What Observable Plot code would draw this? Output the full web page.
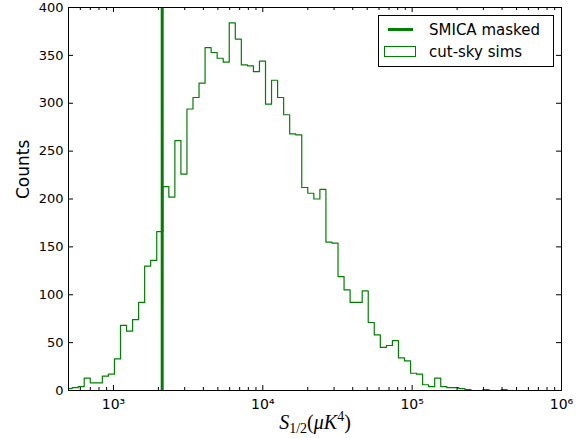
<!DOCTYPE html>
<html><head><meta charset="utf-8">
<script src="https://cdn.jsdelivr.net/npm/d3@7"></script>
<script src="https://cdn.jsdelivr.net/npm/@observablehq/plot@0.6"></script>
<style>body{margin:0;background:#fff}</style>
</head><body><div id="chart"></div>
<script>
// Histogram counts per log-uniform bin
const counts = [2, 3, 4, 13, 8, 8, 15, 17, 33, 68, 62,
  74, 92, 130, 136, 166, 213, 202, 261, 226, 294,
  306, 321, 358, 353, 347, 343, 384, 367, 340, 339,
  333, 344, 299, 324, 306, 288, 268, 267, 212, 206,
  200, 210, 155, 154, 119, 105, 92, 92, 104, 71,
  58, 45, 47, 52, 34, 31, 18, 17, 6, 4,
  13, 4, 3, 3, 2, 1, 0, 0, 1, 0,
  0, 1];
const binStartLog = 2.6829;   // log10 of first bin edge
const binStepLog = 0.04046;   // bin width in decades
const smicaValue = 2120;
const seriesNames = ["SMICA masked", "cut-sky sims"];
const xDomain = [500, 1e6];
const yDomain = [0, 400];
const xMajorTicks = [1e3, 1e4, 1e5, 1e6];
const xMajorLabels = ["10³", "10⁴", "10⁵", "10⁶"];
const xMinorTicks = [500, 600, 700, 800, 900,
  2e3, 3e3, 4e3, 5e3, 6e3, 7e3, 8e3, 9e3,
  2e4, 3e4, 4e4, 5e4, 6e4, 7e4, 8e4, 9e4,
  2e5, 3e5, 4e5, 5e5, 6e5, 7e5, 8e5, 9e5];
const yTicks = [0, 50, 100, 150, 200, 250, 300, 350, 400];
const yLabel = "Counts";

const green = "#008000";
const W = 584, H = 438, mL = 68, mR = 23, mT = 7, mB = 48;
const fw = W - mL - mR, fh = H - mT - mB;

const edges = d3.range(counts.length + 1).map(i => 10 ** (binStartLog + i * binStepLog));
const outline = [{x: edges[0], y: 0}];
counts.forEach((c, i) => outline.push({x: edges[i], y: c}));
outline.push({x: edges[counts.length], y: counts[counts.length - 1]});
outline.push({x: edges[counts.length], y: 0});

const plot = Plot.plot({
  width: W, height: H,
  marginLeft: mL, marginRight: mR, marginTop: mT, marginBottom: mB,
  x: {type: "log", domain: xDomain},
  y: {domain: yDomain},
  style: {fontFamily: "'DejaVu Sans', sans-serif", fontSize: "13px", color: "black", background: "white"},
  marks: [
    Plot.line(outline, {x: "x", y: "y", curve: "step-after", stroke: green, strokeWidth: 1.2, clip: true}),
    Plot.ruleX([smicaValue], {x: d => d, stroke: green, strokeWidth: 3}),
    Plot.frame({stroke: "black", strokeWidth: 1}),
    Plot.tickX(xMajorTicks, {x: d => d, insetTop: fh - 5, stroke: "black"}),
    Plot.tickX(xMajorTicks, {x: d => d, insetBottom: fh - 5, stroke: "black"}),
    Plot.tickX(xMinorTicks, {x: d => d, insetTop: fh - 3, stroke: "black"}),
    Plot.tickX(xMinorTicks, {x: d => d, insetBottom: fh - 3, stroke: "black"}),
    Plot.tickY(yTicks, {y: d => d, insetRight: fw - 5, stroke: "black"}),
    Plot.tickY(yTicks, {y: d => d, insetLeft: fw - 5, stroke: "black"}),
    Plot.axisX(xMajorTicks, {tickSize: 0, tickPadding: 9, label: null,
      tickFormat: d => xMajorLabels[xMajorTicks.indexOf(d)], fontSize: 14}),
    Plot.axisY(yTicks, {tickSize: 0, tickPadding: 5, label: null, fontSize: 13}),
    Plot.text([yLabel], {text: d => d, frameAnchor: "left", rotate: -90, dx: -45, fontSize: 17})
  ]
});

const svg = d3.select(plot);
// x label with math-style sub/superscripts
const xl = svg.append("text").attr("x", 315).attr("y", 429).attr("text-anchor", "middle")
  .attr("font-family", "'Liberation Serif', serif").attr("font-size", 20).attr("fill", "black");
xl.append("tspan").attr("font-style", "italic").text("S");
xl.append("tspan").attr("font-size", 14).attr("dy", 4).text("1/2");
xl.append("tspan").attr("dy", -4).text("(");
xl.append("tspan").attr("font-style", "italic").text("μK");
xl.append("tspan").attr("font-size", 14).attr("dy", -8).text("4");
xl.append("tspan").attr("dy", 8).text(")");

// legend
const lg = svg.append("g").attr("font-family", "'DejaVu Sans', sans-serif").attr("font-size", 15)
  .attr("text-anchor", "start");
lg.append("rect").attr("x", 378.5).attr("y", 15.5).attr("width", 175).attr("height", 51)
  .attr("fill", "white").attr("stroke", "black");
lg.append("line").attr("x1", 388).attr("x2", 413).attr("y1", 29.5).attr("y2", 29.5)
  .attr("stroke", green).attr("stroke-width", 3);
lg.append("text").attr("x", 429).attr("y", 35).attr("fill", "black").text(seriesNames[0]);
lg.append("rect").attr("x", 384.5).attr("y", 46.5).attr("width", 31).attr("height", 10)
  .attr("fill", "white").attr("stroke", green);
lg.append("text").attr("x", 429).attr("y", 57).attr("fill", "black").text(seriesNames[1]);

document.getElementById("chart").appendChild(plot);
</script></body></html>
